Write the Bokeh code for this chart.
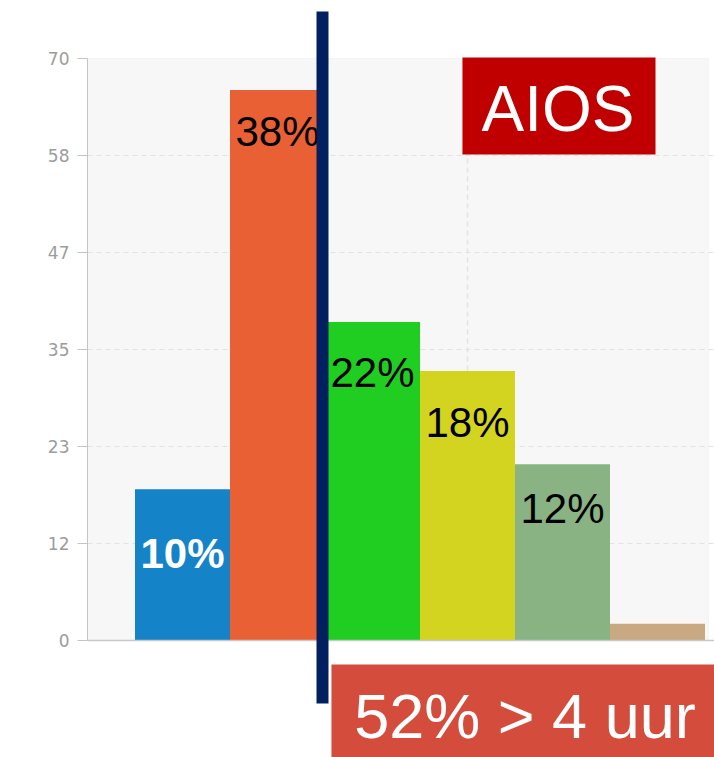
from bokeh.plotting import figure
from bokeh.models import (Range1d, FixedTicker, BoxAnnotation, Label, Span,
                          ColumnDataSource)
from bokeh.core.properties import value
from bokeh.embed import file_html
from bokeh.resources import INLINE

# ---------------- data ----------------
categories = ["c1", "c2", "c3", "c4", "c5", "c6"]
counts = [18.2, 66.2, 38.3, 32.4, 21.2, 2.0]
pct_labels = ["10%", "38%", "22%", "18%", "12%", ""]
bar_colors = ["#1583C8", "#E86034", "#20CE22", "#D3D41F", "#8AB384", "#C9A981"]
y_tick_labels = ["0", "12", "23", "35", "47", "58", "70"]
y_max = 70
x_grid_ticks = [3]

# ---------------- styles ----------------
label_colors = ["white", "black", "black", "black", "black", "black"]
label_styles = ["bold", "normal", "normal", "normal", "normal", "normal"]
label_offsets_px = [64, 41, 50, 51, 44, 0]

x_idx = list(range(len(categories)))
y_ticks = [y_max * k / 6 for k in range(7)]

p = figure(width=714, height=757,
           x_range=Range1d(-1.0, 5.6), y_range=Range1d(-14.072, 76.976),
           output_backend="svg", toolbar_location=None,
           x_axis_location=None, y_axis_location="left",
           min_border_left=87, min_border_right=0,
           min_border_top=0, min_border_bottom=0)
p.outline_line_color = None
p.background_fill_color = "white"
p.border_fill_color = "white"

# plot-area background
bg = BoxAnnotation(bottom=0, top=y_max, right=5.537, fill_color="#f7f7f7",
                   fill_alpha=1.0, line_color="#e4e4e4", line_width=1,
                   level="image")
p.add_layout(bg)

# y axis
ax = p.yaxis[0]
ax.ticker = FixedTicker(ticks=y_ticks)
ax.major_label_overrides = {t: l for t, l in zip(y_ticks, y_tick_labels)}
ax.bounds = (0, y_max)
ax.axis_line_color = "#c4c4c4"
ax.major_tick_line_color = "#c4c4c4"
ax.major_tick_out = 10
ax.major_tick_in = 0
ax.minor_tick_line_color = None
ax.major_label_standoff = 8
ax.major_label_text_font = "DejaVu Sans"
ax.major_label_text_font_size = "17px"
ax.major_label_text_color = "#9c9c9c"

# grids
p.xgrid.visible = False
p.ygrid.ticker = FixedTicker(ticks=y_ticks[1:-1])
p.ygrid.grid_line_color = "#e2e2e2"
p.ygrid.grid_line_dash = "5 4"
p.ygrid.grid_line_width = 1
p.segment(x0=x_grid_ticks, x1=x_grid_ticks, y0=[0] * len(x_grid_ticks),
          y1=[y_max] * len(x_grid_ticks), line_color="#e2e2e2",
          line_dash="5 4", line_width=1.5, level="underlay")

# baseline
p.add_layout(Span(location=0, dimension="width", line_color="#c8c8c8",
                  line_width=1.5))

# bars
src = ColumnDataSource(dict(x=x_idx, top=counts, color=bar_colors,
                            label=pct_labels, lcolor=label_colors,
                            lstyle=label_styles, loff=label_offsets_px))
p.vbar(x="x", top="top", bottom=0, width=1.0, fill_color="color",
       line_color=None, source=src)
p.text(x="x", y="top", text="label", source=src, text_color="lcolor",
       text_font_style="lstyle", y_offset="loff", text_align="center",
       text_baseline="alphabetic", text_font=value("Liberation Sans"),
       text_font_size="42px")

# overlays
p.add_layout(BoxAnnotation(left=1.4105, right=1.5368, top=75.65, bottom=-7.577,
                           fill_color="#00205F", fill_alpha=1.0, line_color=None))
p.add_layout(BoxAnnotation(left=2.947, right=4.979, top=70.12, bottom=58.45,
                           fill_color="#C00000", fill_alpha=1.0, line_color=None))
p.add_layout(Label(x=3.953, y=63.9, text="AIOS", text_align="center",
                   text_baseline="alphabetic", text_color="white",
                   text_font="Liberation Sans", text_font_size="64px"))
p.add_layout(BoxAnnotation(left=1.568, right=6.0, top=-2.887, bottom=-15.0,
                           fill_color="#D44D3C", fill_alpha=1.0, line_color=None))
p.add_layout(Label(x=3.605, y=-9.1, text="52% > 4 uur", text_align="center",
                   text_baseline="alphabetic", text_color="white",
                   text_font="Liberation Sans", text_font_size="63px"))

open("out.html", "w").write(file_html(p, INLINE))
